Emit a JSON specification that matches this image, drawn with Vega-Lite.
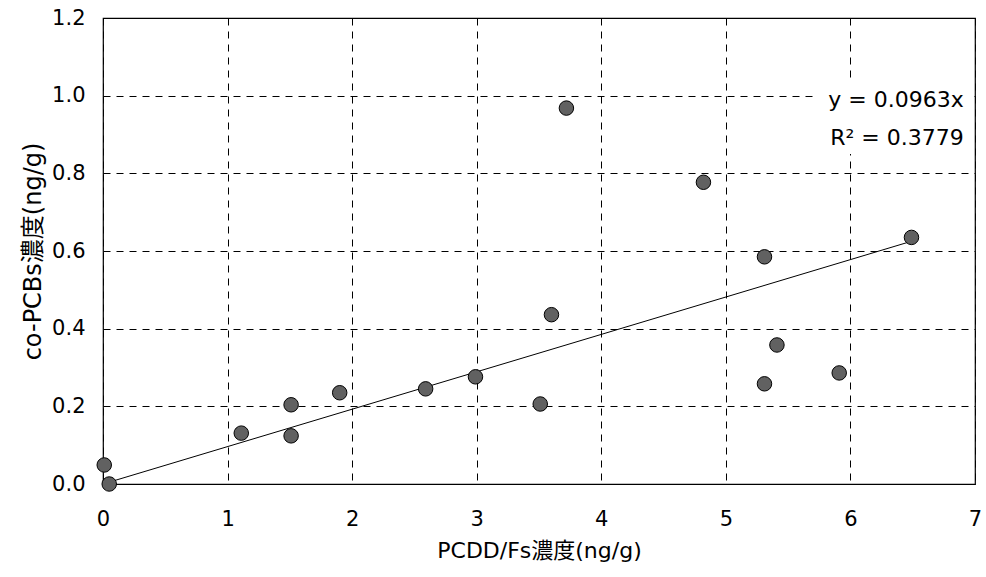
{
  "$schema": "https://vega.github.io/schema/vega-lite/v6.json",
  "width": 872,
  "height": 466,
  "autosize": {"type": "none"},
  "padding": {"left": 103, "top": 18, "right": 11, "bottom": 93},
  "background": "white",
  "config": {
    "font": "DejaVu Sans, Noto Sans CJK JP",
    "view": {"stroke": "black", "strokeWidth": 1.2},
    "axis": {
      "labelFont": "DejaVu Sans, Noto Sans CJK JP",
      "titleFont": "DejaVu Sans, Noto Sans CJK JP",
      "labelFontSize": 21,
      "titleFontSize": 22,
      "titleFontWeight": "normal",
      "labelColor": "black",
      "titleColor": "black",
      "domain": false,
      "ticks": false,
      "grid": true,
      "gridColor": "black",
      "gridDash": [7, 6],
      "gridWidth": 1,
      "gridOpacity": 1,
      "labelFlush": false
    }
  },
  "datasets": {
    "points": [
      {"x": 0.01, "y": 0.049},
      {"x": 0.05, "y": 0.0},
      {"x": 1.11, "y": 0.131},
      {"x": 1.51, "y": 0.204},
      {"x": 1.51, "y": 0.124},
      {"x": 1.9, "y": 0.235},
      {"x": 2.59, "y": 0.245},
      {"x": 2.99, "y": 0.276},
      {"x": 3.51, "y": 0.206},
      {"x": 3.6, "y": 0.436},
      {"x": 3.72, "y": 0.968},
      {"x": 4.82, "y": 0.777},
      {"x": 5.31, "y": 0.585},
      {"x": 5.41, "y": 0.358},
      {"x": 5.31, "y": 0.258},
      {"x": 5.91, "y": 0.286},
      {"x": 6.49, "y": 0.635}
    ],
    "trend": [
      {"x": 0.0, "y": 0.0},
      {"x": 6.5, "y": 0.626}
    ],
    "notebox": [
      {"x": 5.73, "x2": 6.99, "y": 0.85, "y2": 1.04}
    ],
    "notes": [
      {"x": 6.91, "y": 0.988, "label": "y = 0.0963x"},
      {"x": 6.91, "y": 0.89, "label": "R² = 0.3779"}
    ]
  },
  "layer": [
    {
      "data": {"name": "notebox"},
      "mark": {"type": "rect", "fill": "white", "stroke": null},
      "encoding": {
        "x": {
          "field": "x", "type": "quantitative",
          "scale": {"domain": [0, 7], "nice": false, "zero": false},
          "axis": {"title": "PCDD/Fs濃度(ng/g)", "values": [0,1,2,3,4,5,6,7], "labelPadding": 24, "titlePadding": 11, "format": "d"}
        },
        "x2": {"field": "x2"},
        "y": {
          "field": "y", "type": "quantitative",
          "scale": {"domain": [0, 1.2], "nice": false},
          "axis": {"title": "co-PCBs濃度(ng/g)", "values": [0,0.2,0.4,0.6,0.8,1.0,1.2], "format": ".1f", "labelPadding": 18, "titlePadding": 6, "titleFontSize": 24}
        },
        "y2": {"field": "y2"}
      }
    },
    {
      "data": {"name": "trend"},
      "mark": {"type": "line", "color": "black", "strokeWidth": 1},
      "encoding": {
        "x": {"field": "x", "type": "quantitative"},
        "y": {"field": "y", "type": "quantitative"}
      }
    },
    {
      "data": {"name": "points"},
      "mark": {"type": "point", "filled": true, "fill": "#616161", "stroke": "black", "strokeWidth": 1, "size": 210, "opacity": 1, "shape": "circle"},
      "encoding": {
        "x": {"field": "x", "type": "quantitative"},
        "y": {"field": "y", "type": "quantitative"}
      }
    },
    {
      "data": {"name": "notes"},
      "mark": {"type": "text", "align": "right", "baseline": "middle", "fontSize": 22, "color": "black", "font": "DejaVu Sans"},
      "encoding": {
        "x": {"field": "x", "type": "quantitative"},
        "y": {"field": "y", "type": "quantitative"},
        "text": {"field": "label"}
      }
    }
  ]
}
